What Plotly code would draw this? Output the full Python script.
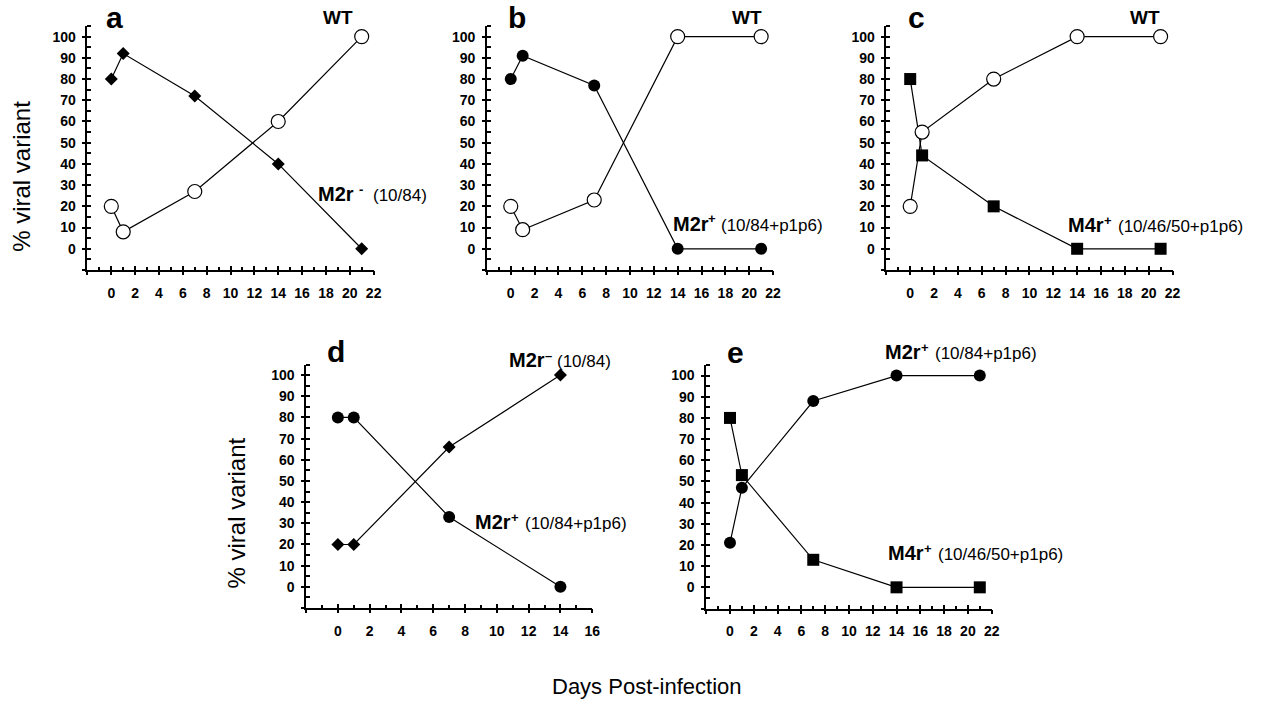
import plotly.graph_objects as go

# ---------------- data ----------------
days = [0, 1, 7, 14, 21]
days_d = [0, 1, 7, 14]

a_wt = [20, 8, 27, 60, 100]
a_m2r_minus = [80, 92, 72, 40, 0]

b_wt = [20, 9, 23, 100, 100]
b_m2r_plus = [80, 91, 77, 0, 0]

c_wt = [20, 55, 80, 100, 100]
c_m4r_plus = [80, 44, 20, 0, 0]

d_m2r_minus = [20, 20, 66, 100]
d_m2r_plus = [80, 80, 33, 0]

e_m2r_plus = [21, 47, 88, 100, 100]
e_m4r_plus = [80, 53, 13, 0, 0]

x_labels_22 = [0, 2, 4, 6, 8, 10, 12, 14, 16, 18, 20, 22]
x_labels_16 = [0, 2, 4, 6, 8, 10, 12, 14, 16]
y_labels = [0, 10, 20, 30, 40, 50, 60, 70, 80, 90, 100]

# ---------------- styles ----------------
W, H = 1264, 704
FONT = "Arial, 'Liberation Sans', sans-serif"
LINE = dict(color="black", width=1.2)
STY = {
    "wt": dict(symbol="circle", size=14, color="white", line=dict(color="black", width=1.2)),
    "m2r_minus": dict(symbol="diamond", size=10, color="black", line=dict(color="black", width=0)),
    "m2r_plus": dict(symbol="circle", size=12, color="black", line=dict(color="black", width=0)),
    "m4r_plus": dict(symbol="square", size=12, color="black", line=dict(color="black", width=0)),
}

def px_x(v):
    return v / W

def px_y(v):
    return 1 - v / H

# panel pixel boxes: (left, right, top, bottom) and x-range
panels = [
    dict(box=(88, 376, 26, 270), xr=[-2, 22], xl=x_labels_22,
         series=[(days, a_m2r_minus, "m2r_minus"), (days, a_wt, "wt")]),
    dict(box=(490, 778, 26, 270), xr=[-2, 22], xl=x_labels_22,
         series=[(days, b_m2r_plus, "m2r_plus"), (days, b_wt, "wt")]),
    dict(box=(892, 1180, 26, 270), xr=[-2, 22], xl=x_labels_22,
         series=[(days, c_m4r_plus, "m4r_plus"), (days, c_wt, "wt")]),
    dict(box=(308, 596, 364.5, 608), xr=[-2, 16], xl=x_labels_16,
         series=[(days_d, d_m2r_minus, "m2r_minus"), (days_d, d_m2r_plus, "m2r_plus")]),
    dict(box=(710.7, 998, 365, 608.5), xr=[-2, 22], xl=x_labels_22,
         series=[(days, e_m4r_plus, "m4r_plus"), (days, e_m2r_plus, "m2r_plus")]),
]

fig = go.Figure()
layout = {}
TICKFONT = dict(family=FONT, size=14, color="black", weight="bold")
TK = dict(tickwidth=1.5, tickcolor="black")

for i, p in enumerate(panels, start=1):
    l, r, t, b = p["box"]
    xd = [px_x(l), px_x(r)]
    yd = [px_y(b), px_y(t)]
    ov = i + 5
    xn, yn = f"x{i}", f"y{i}"
    xon, yon = f"x{ov}", f"y{ov}"
    xkey = "xaxis" if i == 1 else f"xaxis{i}"
    ykey = "yaxis" if i == 1 else f"yaxis{i}"
    x0, x1 = p["xr"]
    # main axes: labels + inside half of the major ticks
    layout[xkey] = dict(
        domain=xd, range=p["xr"], anchor=yn, showline=True, linecolor="black", linewidth=1.5,
        showgrid=False, zeroline=False, ticks="inside", ticklen=4, **TK,
        tickvals=p["xl"], tickfont=TICKFONT, ticklabelstandoff=9, fixedrange=True,
    )
    layout[ykey] = dict(
        domain=yd, range=[-10, 105], anchor=xn, showline=True, linecolor="black", linewidth=1.5,
        showgrid=False, zeroline=False, ticks="inside", ticklen=4, **TK,
        tickvals=y_labels, tickfont=TICKFONT, ticklabelstandoff=7, fixedrange=True,
    )
    # overlay axes: outside half of the major ticks + inside minor ticks
    layout[f"xaxis{ov}"] = dict(
        overlaying=xn, anchor=yn, side="bottom", range=p["xr"], showline=False, showgrid=False,
        zeroline=False, ticks="outside", ticklen=4, **TK,
        tickvals=list(range(x0, x1 + 1, 2)), showticklabels=False,
        minor=dict(ticks="inside", ticklen=3, tickwidth=1.5, tickcolor="black",
                   tickvals=list(range(x0 + 1, x1, 2))),
        fixedrange=True,
    )
    layout[f"yaxis{ov}"] = dict(
        overlaying=yn, anchor=xn, side="left", range=[-10, 105], showline=False, showgrid=False,
        zeroline=False, ticks="outside", ticklen=4, **TK,
        tickvals=list(range(-10, 101, 10)), showticklabels=False,
        minor=dict(ticks="inside", ticklen=4, tickwidth=1.5, tickcolor="black",
                   tickvals=list(range(-5, 106, 10))),
        fixedrange=True,
    )
    fig.add_trace(go.Scatter(x=[None], y=[None], xaxis=xon, yaxis=yn, showlegend=False,
                             hoverinfo="skip", mode="markers"))
    fig.add_trace(go.Scatter(x=[None], y=[None], xaxis=xn, yaxis=yon, showlegend=False,
                             hoverinfo="skip", mode="markers"))
    for xs, ys, key in p["series"]:
        fig.add_trace(go.Scatter(x=xs, y=ys, mode="lines+markers", line=LINE, marker=STY[key],
                                 xaxis=xn, yaxis=yn, showlegend=False, cliponaxis=False))

annotations = []

def ann(text, x, y, size, xanchor="center", bold=False, angle=0):
    annotations.append(dict(
        text=text, x=px_x(x), y=px_y(y), xref="paper", yref="paper", xanchor=xanchor,
        yanchor="middle", showarrow=False, textangle=angle, borderpad=0, borderwidth=0,
        font=dict(family=FONT, size=size, color="black", weight="bold" if bold else "normal"),
    ))

# panel letters
for letter, x, y in [("a", 115, 17), ("b", 520, 17), ("c", 922, 17), ("d", 338, 351), ("e", 740, 352)]:
    ann(letter, x, y, 30, bold=True)

# WT labels
for x in (340, 752, 1152):
    ann("WT", x, 17, 19, bold=True)

# series labels: (name, name-left, sup, sup-left, parenthetical, par-left, y)
series_labels = [
    ("M2r", 320, "-", 361, "(10/84)", 375, 194),
    ("M2r", 677, "+", 713, "(10/84+p1p6)", 726, 224),
    ("M4r", 1075, "+", 1111, "(10/46/50+p1p6)", 1125, 225),
    ("M2r", 512, "–", 548, "(10/84)", 561, 360),
    ("M2r", 478, "+", 514, "(10/84+p1p6)", 528, 522),
    ("M2r", 891, "+", 927, "(10/84+p1p6)", 941, 352),
    ("M4r", 894, "+", 930, "(10/46/50+p1p6)", 944, 553),
]
for name, nx, sup, sx, par, px, y in series_labels:
    ann(name, nx, y, 20, xanchor="left", bold=True)
    ann(sup, sx, y - 5, 13, xanchor="left", bold=True)
    ann(par, px, y + 1, 17, xanchor="left")

# axis titles
ann("% viral variant", 21, 176, 24, angle=-90)
ann("% viral variant", 237, 513, 24, angle=-90)
ann("Days Post-infection", 651, 686, 22)

layout.update(
    width=W, height=H, margin=dict(l=0, r=0, t=0, b=0),
    paper_bgcolor="white", plot_bgcolor="white", showlegend=False,
    annotations=annotations, font=dict(family=FONT, color="black"),
)
fig.update_layout(**layout)
fig.write_html("out.html")
